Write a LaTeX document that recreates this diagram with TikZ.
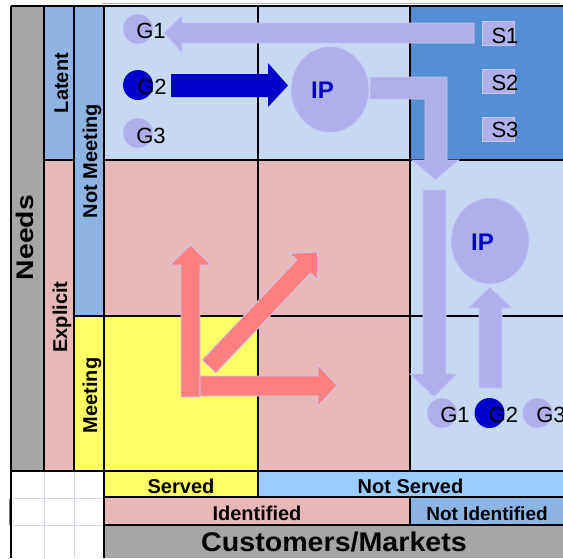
\documentclass[tikz,border=0pt]{standalone}
\usepackage{fontspec}
\setmainfont{Liberation Sans}
\usetikzlibrary{shapes.geometric}
\definecolor{cgray}{HTML}{A6A6A6}
\definecolor{cmid}{HTML}{8EB4E3}
\definecolor{cpink}{HTML}{E6B9B8}
\definecolor{cyel}{HTML}{FFFF66}
\definecolor{clight}{HTML}{C6D9F1}
\definecolor{cdeep}{HTML}{558ED5}
\definecolor{csky}{HTML}{99CCFF}
\definecolor{lavfill}{HTML}{AFAFEB}
\definecolor{lavedge}{HTML}{C9C9F7}
\definecolor{salmon}{HTML}{FF7F7F}
\definecolor{navy}{HTML}{0000CC}
\definecolor{gridlite}{HTML}{D3DAE8}
\tikzset{
  cellline/.style={line width=1.5pt, black},
  lav/.style={fill=lavfill, draw=lavedge, line width=0.8pt},
  pinkarrow/.style={fill=salmon, draw=lavedge, line width=0.8pt},
  darkarrow/.style={fill=navy, draw=none},
  lab/.style={font=\bfseries\fontsize{20}{24}\selectfont, inner sep=0pt, anchor=base},
  vlab/.style={lab, rotate=90},
  glab/.style={font=\fontsize{22}{24}\selectfont, inner sep=0pt, anchor=base},
  iplab/.style={font=\bfseries\fontsize{24}{26}\selectfont, text=navy, inner sep=0pt, anchor=base},
  gcirc/.style={circle, minimum size=30pt, inner sep=0pt, fill=lavfill, draw=lavedge, line width=0.6pt},
  gdark/.style={circle, minimum size=30pt, inner sep=0pt, fill=navy},
  ipell/.style={ellipse, minimum width=78pt, minimum height=86pt, inner sep=0pt, fill=lavfill, draw=lavedge, line width=0.8pt},
  sbox/.style={minimum width=32pt, minimum height=24pt, inner sep=0pt, fill=lavfill, draw=lavedge, line width=0.8pt}
}
\begin{document}
\begin{tikzpicture}[x=1pt,y=-1pt]
\useasboundingbox (0,0) rectangle (563,558);
\clip (0,0) rectangle (563,558);
% fills
\fill[white] (0,0) rectangle (563,558);
\fill[cgray] (11,6) rectangle (44,471);
\fill[cmid] (44,6) rectangle (74,160);
\fill[cpink] (44,160) rectangle (74,471);
\fill[cmid] (74,6) rectangle (104,316);
\fill[cyel] (74,316) rectangle (104,471);
\fill[clight] (104,6) rectangle (410,160);
\fill[cdeep] (410,6) rectangle (563,160);
\fill[cpink] (104,160) rectangle (410,316);
\fill[clight] (410,160) rectangle (563,471);
\fill[cyel] (104,316) rectangle (258,471);
\fill[cpink] (258,316) rectangle (410,471);
\fill[cyel] (104,471) rectangle (258,497);
\fill[csky] (258,471) rectangle (563,497);
\fill[cpink] (104,497) rectangle (410,525);
\fill[cmid] (410,497) rectangle (563,525);
\fill[cgray] (104,525) rectangle (563,558);
% light grid bottom-left
\draw[gridlite, line width=1pt] (44,471) -- (44,558) (74,471) -- (74,558)
  (11,498) -- (104,498) (11,525) -- (104,525);
\draw[gray, line width=1pt] (9.5,499) -- (9.5,525);
% top gray line
\draw[cgray!80, line width=1pt] (102,3.5) -- (560,3.5);
% black lines
\draw[cellline] (11,6) -- (563,6);
\draw[cellline] (44,160) -- (74,160) (104,160) -- (563,160);
\draw[cellline] (74,316) -- (563,316);
\draw[cellline] (11,471) -- (563,471);
\draw[cellline] (104,497) -- (563,497);
\draw[cellline] (104,525) -- (563,525);
\draw[cellline] (11,6) -- (11,558);
\draw[cellline] (44,6) -- (44,471);
\draw[cellline] (74,6) -- (74,471);
\draw[cellline] (104,6) -- (104,558);
\draw[cellline] (258,6) -- (258,497);
\draw[cellline] (410,6) -- (410,471) (410,497) -- (410,525);
% side labels
\node[vlab] (needs) at (33,237.5) {\scalebox{1.18}[1]{\fontsize{24}{26}\selectfont Needs}};
\node[vlab] (latent) at (68,83) {Latent};
\node[vlab] (explicit) at (67,317) {Explicit};
\node[vlab] (notmeet) at (97,161) {Not Meeting};
\node[vlab] (meet) at (97,395.5) {Meeting};
% bottom labels
\node[lab] (served) at (181,493) {Served};
\node[lab] (notserved) at (410.5,493) {Not Served};
\node[lab] (ident) at (257,520) {Identified};
\node[lab] (notident) at (487,520) {\fontsize{19}{22}\selectfont Not Identified};
\node[lab] (cust) at (334,551.5) {\scalebox{1.06}[1]{\fontsize{27}{30}\selectfont Customers/Markets}};
% top-left groups
\node[gcirc] (g1c) at (138,29) {};
\node[gdark] (g2c) at (138,85) {};
\node[gcirc] (g3c) at (138,133) {};
\node[glab] (g1) at (151,38) {G1};
\node[glab] (g2) at (152,94) {G2};
\node[glab] (g3) at (151,143) {G3};
% IP top
\node[ipell] (ip1) at (330,89.5) {};
\node[iplab] (ip1t) at (322.5,98) {IP};
% S boxes
\node[sbox] (s1b) at (498,33) {};
\node[sbox] (s2b) at (498,81) {};
\node[sbox] (s3b) at (498,129.5) {};
\node[glab] (s1) at (505,43) {S1};
\node[glab] (s2) at (505,90) {S2};
\node[glab] (s3) at (505,137.5) {S3};
% IP lower
\node[ipell] (ip2) at (490,241) {};
\node[iplab] (ip2t) at (482.5,250) {IP};
% lower groups
\node[gcirc] (h1c) at (442,413) {};
\node[gdark] (h2c) at (489.5,413) {};
\node[gcirc] (h3c) at (537.5,413) {};
% lavender arrows
\draw[lav] (474,23) -- (182,23) -- (182,15) -- (164,33) -- (182,53) -- (182,43) -- (474,43) -- cycle;
\draw[lav] (370,77) -- (447,77) -- (447,160) -- (459,160) -- (435.5,180) -- (412,160) -- (425,160) -- (425,99) -- (370,99) -- cycle;
\draw[lav] (423,190) -- (446,190) -- (446,374) -- (457,374) -- (434,397) -- (410,374) -- (423,374) -- cycle;
\draw[lav] (479,388) -- (479,308) -- (468,308) -- (490,287) -- (512,308) -- (502,308) -- (502,388) -- cycle;
% dark arrow
\fill[darkarrow] (171,74) -- (268,74) -- (268,63) -- (288,85.5) -- (268,107) -- (268,97) -- (171,97) -- cycle;
% lower G labels on top
\node[glab] (h1) at (455,422) {G1};
\node[glab] (h2) at (503.5,422) {G2};
\node[glab] (h3) at (551,422) {G3};
% pink arrows
\draw[pinkarrow] (181,397) -- (181,265) -- (170,265) -- (190.5,245) -- (211,265) -- (200,265) -- (200,397) -- cycle;
\draw[pinkarrow] (200,376) -- (318,376) -- (318,365) -- (337,385.5) -- (318,406) -- (318,396) -- (200,396) -- cycle;
\draw[pinkarrow] (202.1,360) -- (296.8,260) -- (289.9,253.4) -- (317.5,252) -- (317.5,279.6) -- (310.6,273) -- (215.9,373) -- cycle;
\end{tikzpicture}
\end{document}
